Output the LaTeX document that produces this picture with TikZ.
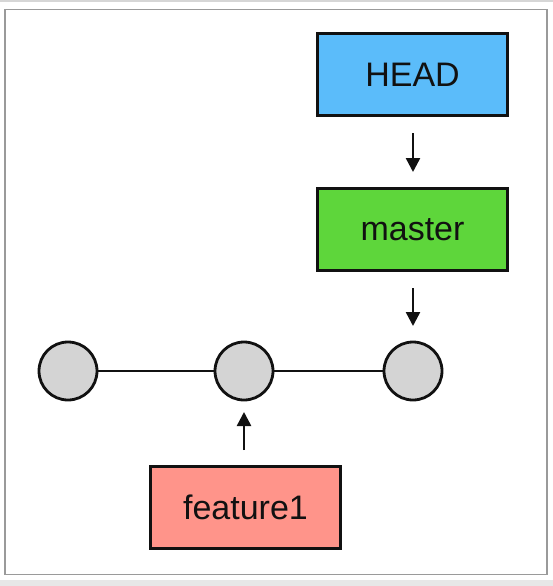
\documentclass[tikz,border=0pt]{standalone}
\usepackage{fontspec}
\setmainfont{Liberation Sans}
\usetikzlibrary{arrows.meta}
\definecolor{headblue}{HTML}{5BBCFA}
\definecolor{mastergreen}{HTML}{5ED63B}
\definecolor{featred}{HTML}{FF948A}
\definecolor{commitgray}{HTML}{D4D4D4}
\definecolor{ink}{HTML}{111111}
\definecolor{framegray}{HTML}{9A9A9A}
\definecolor{bandgray}{HTML}{D6D6D6}
\tikzset{
  refbox/.style={draw=ink, line width=3pt, minimum width=190pt, minimum height=82pt, inner sep=0pt,
    font=\fontsize{34}{37}\selectfont, text=ink},
  commit/.style={circle, draw=ink, line width=2.8pt, fill=commitgray, minimum size=58pt, inner sep=0pt},
  link/.style={draw=ink, line width=2.5pt},
  ptr/.style={draw=ink, line width=2.5pt, -{Triangle[width=14pt,length=14pt]}}
}
\begin{document}
\begin{tikzpicture}[x=1pt,y=-1pt]
  \useasboundingbox (0,0) rectangle (553,586);
  \fill[white] (0,0) rectangle (553,586);
  \fill[bandgray] (0,0) rectangle (553,2.5);
  \fill[bandgray!60] (0,580) rectangle (553,586);
  \draw[framegray, line width=1.2pt] (5,9.5) rectangle (547,574.5);

  \node[refbox, fill=headblue] (head) at (412.5,74.5) {HEAD};
  \node[refbox, fill=mastergreen] (master) at (412.5,229.5) {master};
  \node[refbox, fill=featred] (feature) at (245.5,507) {feature1};

  \node[commit] (c1) at (68,371) {};
  \node[commit] (c2) at (244,371) {};
  \node[commit] (c3) at (413,371) {};

  \draw[link] (c1) -- (c2);
  \draw[link] (c2) -- (c3);

  \coordinate (a1s) at (413,133);
  \coordinate (a1e) at (413,172);
  \coordinate (a2s) at (413,288);
  \coordinate (a2e) at (413,326);
  \coordinate (a3s) at (244,450);
  \coordinate (a3e) at (244,412);
  \draw[ptr] (a1s) -- (a1e);
  \draw[ptr] (a2s) -- (a2e);
  \draw[ptr] (a3s) -- (a3e);
\end{tikzpicture}
\end{document}
